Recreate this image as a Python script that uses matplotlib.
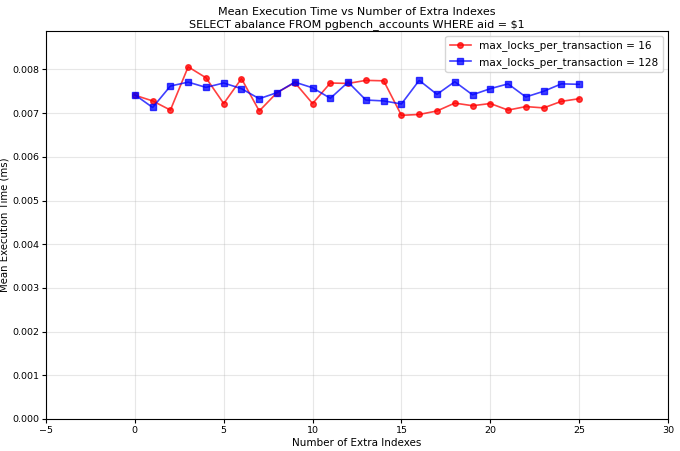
import matplotlib
matplotlib.use("Agg")
import matplotlib.pyplot as plt

extra_indexes = list(range(26))
locks_16 = [0.00741, 0.00728, 0.00707, 0.00806, 0.00781, 0.00722, 0.00779, 0.00705,
            0.00747, 0.00770, 0.00722, 0.00769, 0.00768, 0.00775, 0.00774, 0.00695,
            0.00697, 0.00705, 0.00723, 0.00717, 0.00722, 0.00707, 0.00715, 0.00712,
            0.00727, 0.00733]
locks_128 = [0.00742, 0.00713, 0.00762, 0.00771, 0.00759, 0.00769, 0.00756, 0.00733,
             0.00747, 0.00771, 0.00758, 0.00734, 0.00771, 0.00730, 0.00728, 0.00721,
             0.00775, 0.00743, 0.00772, 0.00742, 0.00756, 0.00767, 0.00737, 0.00750,
             0.00767, 0.00766]

plt.rcParams['font.size'] = 6.8

fig = plt.figure(figsize=(6.8, 4.51), dpi=100)
ax = fig.add_axes([46/680, 1 - 419/451, (668-46)/680, (419-31)/451])
ax.plot(extra_indexes, locks_16, marker='o', color='red', alpha=0.75, markersize=4,
        linewidth=1.2, label='max_locks_per_transaction = 16')
ax.plot(extra_indexes, locks_128, marker='s', color='blue', alpha=0.75, markersize=4,
        linewidth=1.2, label='max_locks_per_transaction = 128')
ax.set_xlim(-5, 30)
ax.set_ylim(0, 0.00888)
ax.set_xlabel("Number of Extra Indexes", fontsize=7.5, labelpad=2)
ax.set_ylabel("Mean Execution Time (ms)", fontsize=7.3, labelpad=2)
ax.set_title("Mean Execution Time vs Number of Extra Indexes\nSELECT abalance FROM pgbench_accounts WHERE aid = $1",
             fontsize=8, pad=3)
ax.tick_params(length=3, pad=2)
ax.grid(True, alpha=0.3)
ax.legend(loc='upper right', fontsize=7.6)
fig.savefig("out.png", dpi=100)
